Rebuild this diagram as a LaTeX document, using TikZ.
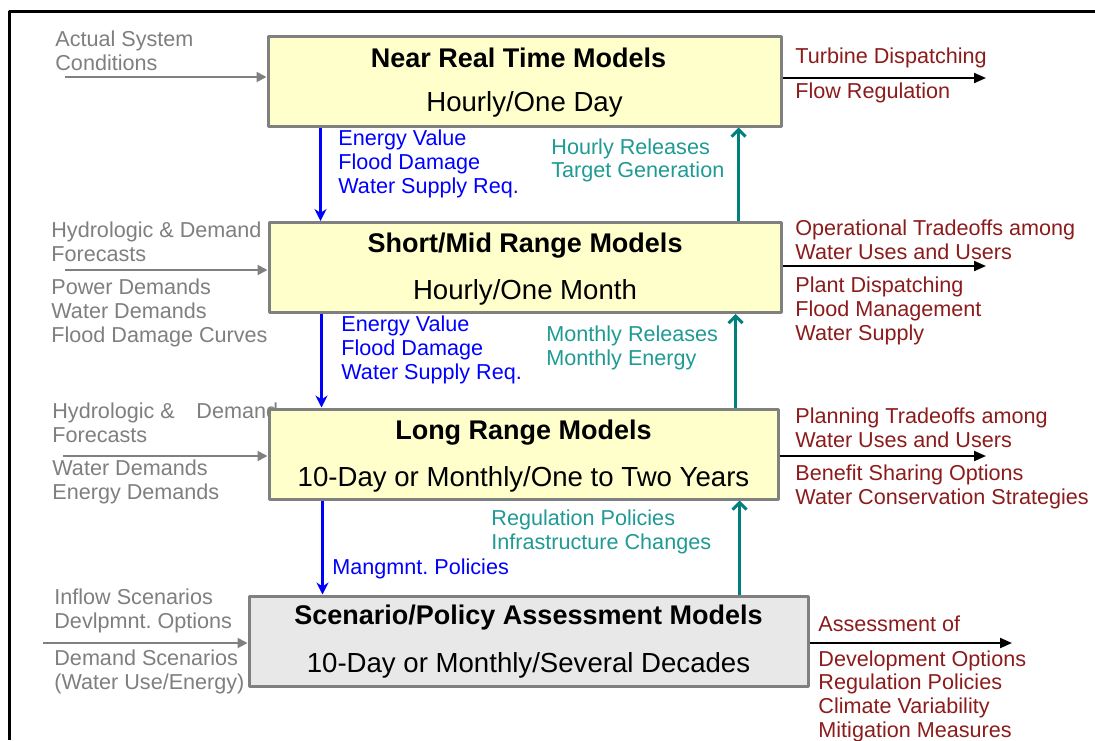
\documentclass[tikz,border=0pt]{standalone}
\usepackage{fontspec}
\setmainfont{Liberation Sans}
\usetikzlibrary{arrows.meta}
\definecolor{mdlyellow}{HTML}{FFFFCC}
\definecolor{mdlgray}{HTML}{E8E8E8}
\definecolor{mdlframe}{HTML}{808080}
\definecolor{inkgray}{HTML}{7F7F7F}
\definecolor{inkblue}{HTML}{0000FF}
\definecolor{inkteal}{HTML}{1F9A94}
\definecolor{arrteal}{HTML}{00807C}
\definecolor{inkred}{HTML}{8C1C1C}

\begin{document}
\begin{tikzpicture}[x=.5pt,y=-.5pt,line join=round,
  mbox/.style={draw=mdlframe,line width=1.5pt,fill=mdlyellow,minimum height=45pt,inner sep=0pt},
  ttl/.style={font=\fontsize{13.5}{15}\selectfont\bfseries,inner sep=0pt},
  sub/.style={font=\fontsize{13.8}{16}\selectfont,inner sep=0pt},
  lbl/.style={font=\fontsize{10.8}{11.8}\selectfont,align=left,anchor=west,inner sep=0pt},
  inarr/.style={-{Triangle[length=5pt,width=5pt]},mdlframe,line width=1pt},
  outarr/.style={-{Triangle[length=6pt,width=5pt]},black,line width=1pt},
  dnarr/.style={-{Stealth[length=6pt,width=6pt]},inkblue,line width=1.5pt},
  uparr/.style={-{Straight Barb[length=3.5pt,width=7pt]},arrteal,line width=1.5pt}]
\path[use as bounding box] (0,0) rectangle (1095,740);
\fill[white] (0,0) rectangle (1095,740);
\draw[line width=1.5pt] (9,740)--(9,11)--(1095,11);

% inputs on the left
\node[lbl,text=inkgray] (act) at (55,51) {Actual System\\Conditions};
\node[lbl,text=inkgray] (hyd1) at (51,241.5) {Hydrologic \& Demand\\Forecasts};
\node[lbl,text=inkgray] (dem1) at (51,313) {Power Demands\\Water Demands\\Flood Damage Curves};
\node[lbl,text=inkgray] (hyd2) at (52,423) {Hydrologic \&\quad Demand\\Forecasts};
\node[lbl,text=inkgray] (dem2) at (52,482) {Water Demands\\Energy Demands};
\node[lbl,text=inkgray] (inf) at (54,611) {Inflow Scenarios\\Devlpmnt.\ Options};
\node[lbl,text=inkgray] (dsc) at (54,672) {Demand Scenarios\\(Water Use/Energy)};

% the four model levels
\node[mbox,minimum width=256.5pt] (near) at (524.5,81) {};
\node[mbox,minimum width=256pt] (short) at (525,267.5) {};
\node[mbox,minimum width=254.5pt] (long) at (523.5,454) {};
\node[mbox,minimum width=279.5pt,fill=mdlgray] (scen) at (528.5,641) {};

\node[ttl] (near-t) at ([xshift=-3pt,yshift=11.5pt]near.center) {Near Real Time Models};
\node[sub] (near-s) at ([yshift=-11.5pt]near.center) {Hourly/One Day};
\node[ttl] (short-t) at ([yshift=11pt]short.center) {Short/Mid Range Models};
\node[sub] (short-s) at ([yshift=-12.5pt]short.center) {Hourly/One Month};
\node[ttl] (long-t) at ([yshift=10.5pt]long.center) {Long Range Models};
\node[sub] (long-s) at ([yshift=-12.5pt]long.center) {10-Day or Monthly/One to Two Years};
\node[ttl] (scen-t) at ([yshift=11.5pt]scen.center) {Scenario/Policy Assessment Models};
\node[sub] (scen-s) at ([yshift=-12pt]scen.center) {10-Day or Monthly/Several Decades};

% passed down and back up
\draw[dnarr] ([xshift=27pt]near.south west)--([xshift=27pt]near.south west |- short.north);
\draw[dnarr] ([xshift=27pt]short.south west)--([xshift=27pt]short.south west |- long.north);
\draw[dnarr] ([xshift=27.5pt]long.south west)--([xshift=27.5pt]long.south west |- scen.north);
\draw[uparr] ([xshift=-22pt]short.north east)--([xshift=-22pt]short.north east |- near.south);
\draw[uparr] ([xshift=-22pt]long.north east)--([xshift=-22pt]long.north east |- short.south);
\draw[uparr] ([xshift=-20pt]long.south east |- scen.north)--([xshift=-20pt]long.south east);

\node[lbl,text=inkblue] (ev1) at (338,164) {Energy Value\\Flood Damage\\Water Supply Req.};
\node[lbl,text=inkblue] (ev2) at (341,350) {Energy Value\\Flood Damage\\Water Supply Req.};
\node[lbl,text=inkblue] (mgt) at (332,569) {Mangmnt.\ Policies};
\node[lbl,text=inkteal] (hr) at (551,160.5) {Hourly Releases\\Target Generation};
\node[lbl,text=inkteal] (mr) at (546,348) {Monthly Releases\\Monthly Energy};
\node[lbl,text=inkteal] (rp) at (491,532) {Regulation Policies\\Infrastructure Changes};

% input and output arrows
\coordinate (in1) at (65,77);
\coordinate (in2) at (65,270);
\coordinate (in3) at (63,456);
\coordinate (in4) at (43,643);
\draw[inarr] (in1)--(in1 -| near.west);
\draw[inarr] (in2)--(in2 -| short.west);
\draw[inarr] (in3)--(in3 -| long.west);
\draw[inarr] (in4)--(in4 -| scen.west);

\coordinate (out1) at (986,78);
\coordinate (out2) at (986,266);
\coordinate (out3) at (986,456);
\coordinate (out4) at (1012,643);
\draw[outarr] (out1 -| near.east)--(out1);
\draw[outarr] (out2 -| short.east)--(out2);
\draw[outarr] (out3 -| long.east)--(out3);
\draw[outarr] (out4 -| scen.east)--(out4);

\node[lbl,text=inkred] (td) at (795,58) {Turbine Dispatching};
\node[lbl,text=inkred] (fr) at (795,93) {Flow Regulation};
\node[lbl,text=inkred] (ot) at (795,239.5) {Operational Tradeoffs among\\Water Uses and Users};
\node[lbl,text=inkred] (pd) at (795,311) {Plant Dispatching\\Flood Management\\Water Supply};
\node[lbl,text=inkred] (pt) at (795,427.5) {Planning Tradeoffs among\\Water Uses and Users};
\node[lbl,text=inkred] (bs) at (795,487) {Benefit Sharing Options\\Water Conservation Strategies};
\node[lbl,text=inkred] (ao) at (818,624) {Assessment of};
\node[lbl,text=inkred] (do) at (818,696) {Development Options\\Regulation Policies\\Climate Variability\\Mitigation Measures};
\end{tikzpicture}
\end{document}
